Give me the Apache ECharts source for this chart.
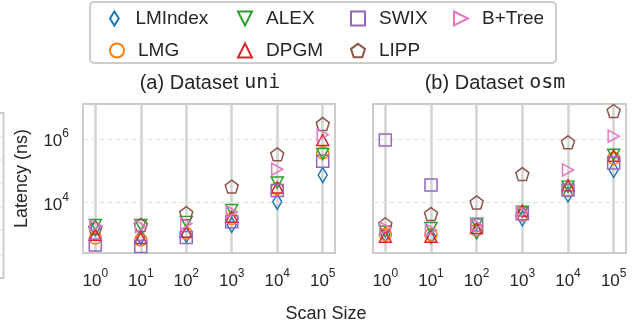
<!DOCTYPE html>
<html>
<head>
<meta charset="utf-8">
<script src="https://cdn.jsdelivr.net/npm/echarts@6/dist/echarts.min.js"></script>
<style>
  html, body { margin: 0; padding: 0; background: #ffffff; }
  #chart { width: 638px; height: 327px; }
</style>
</head>
<body>
<div id="chart"></div>
<script>
// Scan sizes as powers of ten (exponents)
const scanExponents = [0, 1, 2, 3, 4, 5];
const yTickExponents = [4, 6];

const methodNames = ['LMIndex', 'LMG', 'ALEX', 'DPGM', 'SWIX', 'LIPP', 'B+Tree'];

// Latency (ns) per scan size, dataset "uni"
const uniLMIndex = [1600, 850, 980, 2000, 10700, 74000];
const uniLMG     = [780, 680, 1100, 3200, 28000, 370000];
const uniALEX    = [2000, 2000, 2500, 5900, 43000, 340000];
const uniDPGM    = [980, 780, 1230, 3600, 30000, 930000];
const uniSWIX    = [470, 420, 800, 2500, 24000, 200000];
const uniLIPP    = [1600, 2000, 4700, 32000, 330000, 2950000];
const uniBTree   = [1900, 1800, 2200, 5200, 112000, 1350000];

// Latency (ns) per scan size, dataset "osm"
const osmLMIndex = [1000, 900, 1250, 3200, 18000, 107000];
const osmLMG     = [1000, 1000, 1400, 4000, 24000, 250000];
const osmALEX    = [1250, 1600, 2200, 5200, 32000, 320000];
const osmDPGM    = [850, 850, 1600, 5600, 35000, 300000];
const osmSWIX    = [930000, 36000, 2000, 4500, 25000, 175000];
const osmLIPP    = [2100, 4400, 10200, 79000, 790000, 7600000];
const osmBTree   = [1600, 1400, 2000, 5000, 107000, 1230000];

const uniSeries = [uniLMIndex, uniLMG, uniALEX, uniDPGM, uniSWIX, uniLIPP, uniBTree];
const osmSeries = [osmLMIndex, osmLMG, osmALEX, osmDPGM, osmSWIX, osmLIPP, osmBTree];

const colors = ['#1f77b4', '#ff7f0e', '#2ca02c', '#d62728', '#9467bd', '#8c564b', '#e377c2'];
const symbols = [
  'path://M5,0 L10,8 L5,16 L0,8 Z',           // thin diamond
  'circle',
  'path://M0,0 L10,0 L5,10 Z',                 // triangle down
  'path://M5,0 L10,10 L0,10 Z',                // triangle up
  'rect',
  'path://M10,0 L19.51,6.91 L15.88,18.09 L4.12,18.09 L0.49,6.91 Z', // pentagon
  'path://M0,0 L10,5 L0,10 Z'                  // triangle right
];
const symbolSizes = [[9, 15], 12, [12, 11], [12, 11], 12, 13, [11, 12]];

const TEXT = '#262626';
const FONT = 'Liberation Sans';

function pow10Label(v) { return '{b|10}{s|' + v + '}'; }
const powRich = {
  b: { fontSize: 17, fontFamily: FONT, color: TEXT, lineHeight: 22, verticalAlign: 'bottom' },
  s: { fontSize: 12, fontFamily: FONT, color: TEXT, lineHeight: 22, verticalAlign: 'top' }
};

function xAxisFor(gridIndex) {
  return {
    type: 'value', gridIndex: gridIndex, min: -0.27, max: 5.27,
    axisLine: { show: false }, axisTick: { show: false }, splitLine: { show: false },
    axisLabel: { customValues: scanExponents, margin: 15, formatter: pow10Label, rich: powRich }
  };
}
function yAxisFor(gridIndex, withLabels) {
  return {
    type: 'value', gridIndex: gridIndex, min: 2.42, max: 7.1,
    axisLine: { show: false }, axisTick: { show: false }, splitLine: { show: false },
    axisLabel: withLabels
      ? { customValues: yTickExponents, margin: 14, formatter: pow10Label, rich: powRich }
      : { show: false },
    name: withLabels ? 'Latency (ns)' : '',
    nameLocation: 'middle', nameGap: 52,
    nameTextStyle: { fontSize: 18, fontFamily: FONT, color: TEXT }
  };
}

// Grid lines: solid at each scan size, dashed at the labelled decades
function gridLineSeries(gridIndex) {
  return {
    type: 'scatter', xAxisIndex: gridIndex, yAxisIndex: gridIndex, data: [], z: 1,
    silent: true,
    markLine: {
      silent: true, symbol: 'none', z: 1, label: { show: false },
      data: scanExponents.map(v => ({ xAxis: v, lineStyle: { type: 'solid', color: '#d3d3d3', width: 2.5 } }))
        .concat(yTickExponents.map(v => ({ yAxis: v, lineStyle: { type: [5, 3], color: '#e2e2e2', width: 1.2 } })))
    }
  };
}

function pointSeries(gridIndex, values, k) {
  return {
    type: 'scatter', name: methodNames[k], xAxisIndex: gridIndex, yAxisIndex: gridIndex, z: 3,
    symbol: symbols[k], symbolSize: symbolSizes[k],
    itemStyle: { color: 'rgba(0,0,0,0)', borderColor: colors[k], borderWidth: 1.5, opacity: 1 },
    data: values.map((v, i) => [scanExponents[i], Math.log10(v)])
  };
}

const series = [gridLineSeries(0), gridLineSeries(1)];
uniSeries.forEach((vals, k) => series.push(pointSeries(0, vals, k)));
osmSeries.forEach((vals, k) => series.push(pointSeries(1, vals, k)));

// Legend laid out in four columns, two rows
const legendCenters = [[116, 18], [116, 50], [244, 18], [244, 50], [357, 18], [357, 50], [460, 18]];
const legends = methodNames.map((name, k) => ({
  data: [name], left: legendCenters[k][0] - 7, top: legendCenters[k][1] - 9,
  itemWidth: 14, itemHeight: 14, padding: 0,
  textStyle: { fontSize: 19, fontFamily: FONT, color: TEXT, padding: [0, 0, 0, 9] }
}));

// Edge of the neighbouring panel at the far left
const edgeStubs = [137, 160, 183, 207, 230, 255];
const edgeGraphics = [
  { type: 'line', silent: true, shape: { x1: 3.5, y1: 113, x2: 3.5, y2: 278 }, style: { stroke: '#cccccc', lineWidth: 2 } },
  { type: 'line', silent: true, shape: { x1: 0, y1: 113, x2: 4.5, y2: 113 }, style: { stroke: '#cccccc', lineWidth: 2 } },
  { type: 'line', silent: true, shape: { x1: 0, y1: 278, x2: 4.5, y2: 278 }, style: { stroke: '#cccccc', lineWidth: 2 } }
].concat(edgeStubs.map(y => ({
  type: 'line', silent: true, shape: { x1: 0, y1: y, x2: 3, y2: y }, style: { stroke: '#dddddd', lineWidth: 1 }
})));

const option = {
  animation: false,
  backgroundColor: '#ffffff',
  title: [
    { text: '(a) Dataset {m|uni}', left: 205, top: 68, textAlign: 'center',
      textStyle: { fontSize: 20, fontFamily: FONT, fontWeight: 'normal', color: TEXT,
        rich: { m: { fontSize: 20, fontFamily: 'DejaVu Sans Mono', color: TEXT } } } },
    { text: '(b) Dataset {m|osm}', left: 490, top: 68, textAlign: 'center',
      textStyle: { fontSize: 20, fontFamily: FONT, fontWeight: 'normal', color: TEXT,
        rich: { m: { fontSize: 20, fontFamily: 'DejaVu Sans Mono', color: TEXT } } } },
    { text: 'Scan Size', left: 321, top: 300, textAlign: 'center',
      textStyle: { fontSize: 18, fontFamily: FONT, fontWeight: 'normal', color: TEXT } }
  ],
  legend: legends,
  graphic: [{
    type: 'rect', z: -1, silent: true,
    shape: { x: 90, y: 2, width: 466, height: 61, r: 4 },
    style: { fill: '#ffffff', stroke: '#cccccc', lineWidth: 2 }
  }].concat(edgeGraphics),
  grid: [
    { left: 83, top: 104, width: 252, height: 149, show: true, borderColor: '#cccccc', borderWidth: 2, backgroundColor: 'transparent' },
    { left: 373, top: 104, width: 253, height: 149, show: true, borderColor: '#cccccc', borderWidth: 2, backgroundColor: 'transparent' }
  ],
  xAxis: [xAxisFor(0), xAxisFor(1)],
  yAxis: [yAxisFor(0, true), yAxisFor(1, false)],
  series: series
};

const chart = echarts.init(document.getElementById('chart'), null, { renderer: 'canvas' });
chart.setOption(option);
</script>
</body>
</html>
